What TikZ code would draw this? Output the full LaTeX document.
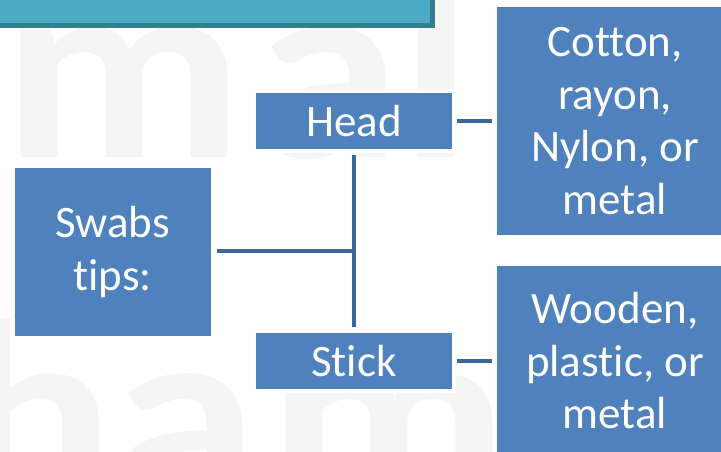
\documentclass[tikz,border=0pt]{standalone}
\usepackage{fontspec}
\setmainfont{Carlito}[Ligatures={NoCommon}]
\definecolor{boxblue}{RGB}{79,129,189}
\definecolor{linkblue}{RGB}{60,104,152}
\definecolor{barteal}{RGB}{75,172,198}
\definecolor{baredge}{RGB}{52,126,143}
\definecolor{wmgray}{RGB}{245,245,245}
\begin{document}
\begin{tikzpicture}[x=1pt,y=-1pt,
  box/.style={fill=boxblue, text=white, inner sep=0pt, outer sep=0pt,
    align=center, font=\fontsize{45}{52.5}\selectfont},
  smallbox/.style={box, draw=white, line width=4pt,
    minimum width=200pt, minimum height=60pt},
  link/.style={draw=linkblue, line width=4.5pt},
  stub/.style={draw=linkblue, line width=4pt},
  wm/.style={text=wmgray, anchor=base, inner sep=0pt,
    font=\bfseries\fontsize{265}{265}\selectfont}
]
\useasboundingbox (0,0) rectangle (721,451);
\clip (0,0) rectangle (721,451);

% faint background lettering
\node[wm] (w1) at (123.5,157) {\scalebox{1.12}[1]{m}};
\node[wm] (w2) at (328,157) {\scalebox{1.12}[1]{a}};
\node[wm] (w3) at (436,157) {\scalebox{1.12}[1]{l}};
\node[wm] (w4) at (35,504) {\scalebox{1.12}[1]{h}};
\node[wm] (w5) at (185,504) {\scalebox{1.12}[1]{a}};
\node[wm] (w6) at (388,504) {\scalebox{1.12}[1]{m}};

% title bar at the top
\draw[fill=barteal, draw=baredge, line width=5pt] (-10,-10) rectangle (432.5,25.5);

% boxes
\node[box, minimum width=196pt, minimum height=168pt] (swabs) at (112.6,252) {Swabs\\tips:};
\node[smallbox] (head) at (354,121) {Head};
\node[smallbox] (stick) at (354,361) {Stick};
\node[box, minimum width=236pt, minimum height=228.6pt] (cot) at (615,121) {Cotton,\\rayon,\\Nylon, or\\metal};
\node[box, minimum width=236pt, minimum height=190pt] (wood) at (615,361) {Wooden,\\plastic, or\\metal};

% connectors
\coordinate (jn) at (354,251);
\draw[link] ([xshift=6pt]swabs.east|-jn) -- (jn);
\draw[link] ([yshift=-4pt]head.south) -- ([yshift=4pt]stick.north);
\draw[stub] ([xshift=3pt]head.east) -- ([xshift=-5pt]cot.west);
\draw[stub] ([xshift=3pt]stick.east) -- ([xshift=-5pt]wood.west);
\end{tikzpicture}
\end{document}
